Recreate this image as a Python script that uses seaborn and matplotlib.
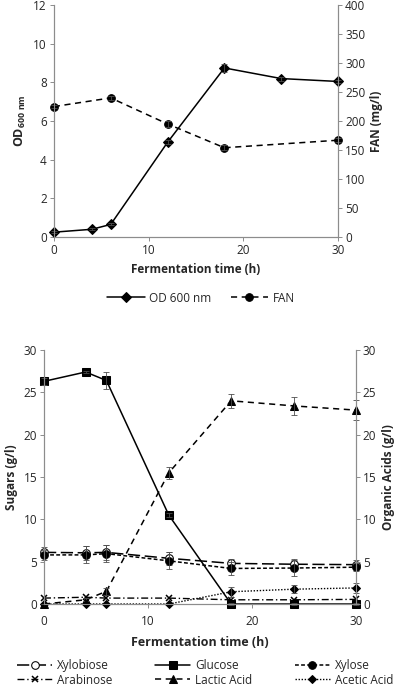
import numpy as np
import pandas as pd
import seaborn as sns
import matplotlib.pyplot as plt

sns.set_style("white")
plt.rcParams['font.family'] = ['Open Sans', 'DejaVu Sans']
plt.rcParams['font.size'] = 8.5

# top panel: growth and FAN
t_od = [0, 4, 6, 12, 18, 24, 30]
od600 = [0.25, 0.4, 0.65, 4.9, 8.75, 8.2, 8.05]
od600_err = [0.05, 0.05, 0.05, 0.1, 0.2, 0.1, 0.1]
t_fan = [0, 6, 12, 18, 30]
fan = [225, 240, 195, 154, 167]
fan_err = [3, 3, 5, 4, 3]

# bottom panel: sugars and organic acids
t = [0, 4, 6, 12, 18, 24, 30]
xylobiose = [6.1, 6.05, 6.1, 5.4, 4.8, 4.7, 4.65]
xylobiose_err = [0.6, 0.8, 0.9, 0.8, 0.5, 0.6, 0.5]
glucose = [26.3, 27.4, 26.4, 10.5, 0.0, 0.0, 0.0]
glucose_err = [0.4, 0.1, 1.0, 0.2, 0.1, 0.1, 0.1]
xylose = [5.8, 5.8, 5.95, 5.1, 4.2, 4.25, 4.35]
xylose_err = [0.6, 1.0, 1.0, 1.0, 0.8, 0.9, 0.5]
arabinose = [0.7, 0.8, 0.7, 0.7, 0.5, 0.5, 0.55]
lactic = [0.0, 0.5, 1.5, 15.5, 24.0, 23.4, 22.9]
lactic_err = [0.1, 0.2, 0.4, 0.7, 0.8, 1.1, 1.2]
acetic = [0.0, 0.0, 0.0, 0.0, 1.45, 1.75, 1.9]
acetic_err = [0.0, 0.0, 0.0, 0.0, 0.6, 0.5, 0.6]

spine_col = '0.55'
ebar = dict(fmt='none', ecolor='0.3', elinewidth=0.6, capsize=2, capthick=0.6,
            clip_on=False)
mk = dict(color='black', markeredgecolor='black', clip_on=False)


def style_axes(ax, ax2):
    for a in (ax, ax2):
        a.spines['top'].set_visible(False)
        for s in ('left', 'right', 'bottom'):
            a.spines[s].set_color(spine_col)
            a.spines[s].set_linewidth(0.8)
        a.tick_params(direction='out', length=3, width=0.7, color=spine_col,
                      labelsize=8.5, pad=2)
    ax.tick_params(axis='x', bottom=True)
    ax.tick_params(axis='y', left=True)
    ax2.tick_params(axis='y', right=True)


fig = plt.figure(figsize=(4.02, 6.86), dpi=100)

# ---------- top ----------
ax = fig.add_axes([0.134, 0.6545, 0.707, 0.338])
ax2 = ax.twinx()
sns.lineplot(x=t_od, y=od600, ax=ax, lw=1.1, marker='D', markersize=5,
             label='OD 600 nm', **mk)
ax.errorbar(t_od, od600, yerr=od600_err, **ebar)
sns.lineplot(x=t_fan, y=fan, ax=ax2, lw=1.1, linestyle=(0, (4, 3)),
             marker='o', markersize=5.5, label='FAN', **mk)
ax2.errorbar(t_fan, fan, yerr=fan_err, **ebar)
ax.set_xlim(0, 30)
ax.set_ylim(0, 12)
ax2.set_ylim(0, 400)
ax.set_xticks([0, 10, 20, 30])
ax.set_yticks(range(0, 13, 2))
ax2.set_yticks(range(0, 401, 50))
ax.tick_params(axis='x', pad=5)
ax.set_xlabel('Fermentation time (h)', fontweight='bold', fontsize=8.5, labelpad=4)
ax.set_ylabel(r'OD$_{\mathregular{600\ nm}}$', fontweight='bold', fontsize=9, labelpad=4)
ax2.set_ylabel('FAN (mg/l)', fontweight='bold', fontsize=8.5, labelpad=3)
style_axes(ax, ax2)
h1, l1 = ax.get_legend_handles_labels()
h2, l2 = ax2.get_legend_handles_labels()
ax.get_legend().remove()
ax2.get_legend().remove()
fig.legend(h1 + h2, l1 + l2, loc='center', bbox_to_anchor=(0.5, 1 - 298 / 686),
           ncol=2, frameon=False, fontsize=8.5, handlelength=3.2,
           columnspacing=1.6, handletextpad=0.4)

# ---------- bottom ----------
bx = fig.add_axes([0.1095, 0.1195, 0.776, 0.3703])
bx2 = bx.twinx()
sns.lineplot(x=t, y=xylobiose, ax=bx, lw=1.1, linestyle=(0, (8, 3)),
             marker='o', markersize=5.5, markerfacecolor='white',
             label='Xylobiose', **mk)
bx.errorbar(t, xylobiose, yerr=xylobiose_err, **ebar)
sns.lineplot(x=t, y=arabinose, ax=bx, lw=1.0, linestyle=(0, (5, 2, 1, 2)),
             marker='x', markersize=5, markeredgewidth=1.1, label='Arabinose', **mk)
sns.lineplot(x=t, y=glucose, ax=bx, lw=1.1, marker='s', markersize=5.5,
             label='Glucose', **mk)
bx.errorbar(t, glucose, yerr=glucose_err, **ebar)
sns.lineplot(x=t, y=lactic, ax=bx2, lw=1.1, linestyle=(0, (4, 3)),
             marker='^', markersize=5.5, label='Lactic Acid', **mk)
bx2.errorbar(t, lactic, yerr=lactic_err, **ebar)
sns.lineplot(x=t, y=xylose, ax=bx, lw=1.1, linestyle=(0, (2.5, 1.5)),
             marker='o', markersize=5.5, label='Xylose', **mk)
bx.errorbar(t, xylose, yerr=xylose_err, **ebar)
sns.lineplot(x=t, y=acetic, ax=bx2, lw=1.0, linestyle=(0, (1, 1.2)),
             marker='D', markersize=4.5, label='Acetic Acid', **mk)
bx2.errorbar(t, acetic, yerr=acetic_err, **ebar)
bx.set_xlim(0, 30)
bx.set_ylim(0, 30)
bx2.set_ylim(0, 30)
bx.set_xticks([0, 10, 20, 30])
bx.set_yticks(range(0, 31, 5))
bx2.set_yticks(range(0, 31, 5))
bx.set_xlabel('Fermentation time (h)', fontweight='bold', fontsize=9, labelpad=6)
bx.set_ylabel('Sugars (g/l)', fontweight='bold', fontsize=8.5, labelpad=4)
bx2.set_ylabel('Organic Acids (g/l)', fontweight='bold', fontsize=8.5, labelpad=4)
style_axes(bx, bx2)
bx.tick_params(axis='x', pad=5)
h1, l1 = bx.get_legend_handles_labels()
h2, l2 = bx2.get_legend_handles_labels()
bx.get_legend().remove()
bx2.get_legend().remove()
hd = dict(zip(l1 + l2, h1 + h2))
order = ['Xylobiose', 'Arabinose', 'Glucose', 'Lactic Acid', 'Xylose', 'Acetic Acid']
fig.legend([hd[k] for k in order], order, loc='center',
           bbox_to_anchor=(0.51, 1 - 673 / 686), ncol=3, frameon=False,
           fontsize=8.5, handlelength=3.0, columnspacing=3.6, handletextpad=0.4,
           labelspacing=0.1)

fig.savefig('out.png', dpi=100)
